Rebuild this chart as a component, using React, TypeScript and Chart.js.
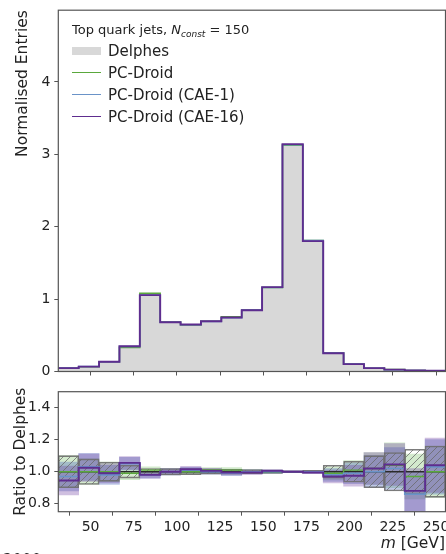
import React, { useEffect, useRef } from 'react';
import { Chart, registerables } from 'chart.js';

Chart.register(...registerables);

// ---------------- data ----------------
const binEdges = [31.3, 43.1, 54.9, 66.7, 78.5, 90.3, 102.1, 113.9, 125.7, 137.5, 149.3, 161.1, 172.9, 184.7, 196.5, 208.3, 220.1, 231.9, 243.7, 255.5];

const delphes = [0.05, 0.066, 0.135, 0.33, 1.075, 0.68, 0.64, 0.69, 0.75, 0.85, 1.16, 3.12, 1.81, 0.26, 0.105, 0.045, 0.025, 0.015, 0.01];
const pcDroid = [0.05, 0.066, 0.135, 0.333, 1.08, 0.683, 0.642, 0.694, 0.755, 0.85, 1.16, 3.125, 1.81, 0.258, 0.106, 0.046, 0.026, 0.0145, 0.0098];
const pcDroidCae1 = [0.049, 0.068, 0.133, 0.346, 1.055, 0.68, 0.646, 0.69, 0.742, 0.85, 1.16, 3.13, 1.81, 0.255, 0.104, 0.045, 0.0255, 0.013, 0.0103];
const pcDroidCae16 = [0.047, 0.068, 0.134, 0.348, 1.055, 0.68, 0.65, 0.693, 0.746, 0.846, 1.166, 3.14, 1.8, 0.252, 0.102, 0.046, 0.026, 0.013, 0.0104];

const ratioDelphes = [1, 1, 1, 1, 1, 1, 1, 1, 1, 1, 1, 1, 1, 1, 1, 1, 1, 1, 1];
const ratioPcDroid = [1.0, 1.0, 1.0, 0.99, 1.01, 1.0, 1.0, 1.01, 1.01, 1.0, 1.0, 1.0, 1.0, 0.99, 1.01, 1.02, 1.04, 0.97, 1.0];
const ratioCae1 = [0.97, 1.03, 0.98, 1.05, 0.98, 1.0, 1.01, 1.0, 0.99, 1.0, 1.0, 1.0, 1.0, 0.98, 0.99, 1.0, 1.02, 0.86, 1.03];
const ratioCae16 = [0.945, 1.025, 0.99, 1.055, 0.98, 1.0, 1.015, 1.005, 0.995, 0.995, 1.005, 1.0, 0.995, 0.97, 0.975, 1.02, 1.045, 0.88, 1.04];

const errDelphes = [0.1, 0.08, 0.06, 0.04, 0.02, 0.02, 0.018, 0.016, 0.015, 0.013, 0.01, 0.006, 0.008, 0.04, 0.065, 0.1, 0.12, 0.14, 0.16];
const errPcDroid = [0.1, 0.08, 0.06, 0.04, 0.02, 0.02, 0.018, 0.016, 0.015, 0.013, 0.01, 0.006, 0.008, 0.04, 0.06, 0.1, 0.14, 0.14, 0.16];
const errCae1 = [0.09, 0.085, 0.06, 0.04, 0.02, 0.02, 0.018, 0.016, 0.015, 0.013, 0.01, 0.006, 0.008, 0.04, 0.065, 0.1, 0.13, 0.14, 0.17];
const errCae16 = [0.09, 0.085, 0.06, 0.04, 0.02, 0.02, 0.018, 0.016, 0.015, 0.013, 0.01, 0.006, 0.008, 0.04, 0.065, 0.1, 0.13, 0.14, 0.17];

const xTicks = [50, 75, 100, 125, 150, 175, 200, 225, 250];
const yTopTicks = [0, 1, 2, 3, 4];
const yRatioTicks = [0.8, 1.0, 1.2, 1.4];

// ---------------- style ----------------
const FONT = '"DejaVu Sans", "Liberation Sans", sans-serif';
const TEXT = '#222222';
const AXIS = '#555555';
const GRAY_FILL = '#d8d8d8';
const GREEN = '#5aa83c';
const BLUE = '#6a93c8';
const PURPLE = '#5e2d8f';
const GREEN_BAND = 'rgba(110,185,90,0.30)';
const BLUE_BAND = 'rgba(85,110,190,0.38)';
const PURPLE_BAND = 'rgba(105,55,160,0.32)';

const stepPoints = (vals: number[]) => {
  const pts = vals.map((v, i) => ({ x: binEdges[i], y: v }));
  pts.push({ x: binEdges[vals.length], y: vals[vals.length - 1] });
  return pts;
};

const bandPoints = (vals: number[], errs: number[]) =>
  vals.map((v, i) => ({ x: (binEdges[i] + binEdges[i + 1]) / 2, y: [v - errs[i], v + errs[i]] }));

const framePlugin = {
  id: 'frame',
  afterDraw(chart: any) {
    const { ctx, chartArea: a } = chart;
    ctx.save();
    ctx.strokeStyle = AXIS;
    ctx.lineWidth = 1.2;
    ctx.strokeRect(a.left, a.top, a.right - a.left, a.bottom - a.top);
    ctx.restore();
  },
};

const tickGrid = { display: true, drawOnChartArea: false, drawTicks: true, tickLength: 4, color: AXIS, tickWidth: 1 };

const lineDs = (label: string, data: any, color: string, width: number, order: number) => ({
  type: 'line' as const,
  label,
  data,
  stepped: 'before' as const,
  borderColor: color,
  borderWidth: width,
  pointRadius: 0,
  fill: false,
  order,
});

const bandDs = (label: string, data: any, color: any, order: number, border = 0, borderColor = 'rgba(0,0,0,0)') => ({
  type: 'bar' as const,
  label,
  data,
  backgroundColor: color,
  borderColor,
  borderWidth: border,
  borderSkipped: false,
  grouped: false,
  barPercentage: 1,
  categoryPercentage: 1,
  order,
});

export default function App() {
  const topRef = useRef<HTMLCanvasElement>(null);
  const botRef = useRef<HTMLCanvasElement>(null);

  useEffect(() => {
    const topCanvas = topRef.current!;
    const botCanvas = botRef.current!;

    const top = new Chart(topCanvas, {
      type: 'line',
      data: {
        datasets: [
          {
            label: 'Delphes',
            data: stepPoints(delphes),
            stepped: 'before',
            fill: 'origin',
            backgroundColor: GRAY_FILL,
            borderColor: 'rgba(0,0,0,0)',
            borderWidth: 0,
            pointRadius: 0,
            order: 0,
          } as any,
          lineDs('PC-Droid', stepPoints(pcDroid), GREEN, 1.5, -1),
          lineDs('PC-Droid (CAE-1)', stepPoints(pcDroidCae1), BLUE, 1.5, -2),
          lineDs('PC-Droid (CAE-16)', stepPoints(pcDroidCae16), PURPLE, 1.9, -3),
        ],
      },
      options: {
        animation: false,
        responsive: false,
        events: [],
        layout: { padding: { left: 0, top: 10.2, right: 24.5, bottom: 0 } },
        plugins: { legend: { display: false }, tooltip: { enabled: false } },
        scales: {
          x: {
            type: 'linear',
            min: binEdges[0],
            max: binEdges[binEdges.length - 1],
            offset: false,
            afterBuildTicks: (s: any) => {
              s.ticks = xTicks.map((v) => ({ value: v }));
            },
            afterFit: (s: any) => {
              s.height = 13.5;
              s.paddingLeft = 0;
              s.paddingRight = 0;
            },
            ticks: { display: false },
            grid: tickGrid,
            border: { display: false },
          },
          y: {
            type: 'linear',
            min: 0,
            max: 4.99,
            afterBuildTicks: (s: any) => {
              s.ticks = yTopTicks.map((v) => ({ value: v }));
            },
            afterFit: (s: any) => {
              s.width = 58.3;
              s.paddingTop = 0;
              s.paddingBottom = 0;
            },
            ticks: { font: { family: FONT, size: 14 }, color: TEXT, padding: 4, callback: (v: any) => String(v) },
            grid: tickGrid,
            border: { display: false },
            title: {
              display: true,
              text: 'Normalised Entries',
              align: 'end',
              color: TEXT,
              font: { family: FONT, size: 15.5 },
              padding: { top: 14, bottom: 0 },
            },
          },
        },
      } as any,
      plugins: [framePlugin],
    });

    // hatch pattern
    const tile = document.createElement('canvas');
    tile.width = 7;
    tile.height = 7;
    const tg = tile.getContext('2d')!;
    tg.strokeStyle = 'rgba(105,105,105,0.85)';
    tg.lineWidth = 0.9;
    tg.beginPath();
    tg.moveTo(0, 7);
    tg.lineTo(7, 0);
    tg.moveTo(-1, 1);
    tg.lineTo(1, -1);
    tg.moveTo(6, 8);
    tg.lineTo(8, 6);
    tg.stroke();
    const hatch = botCanvas.getContext('2d')!.createPattern(tile, 'repeat');

    const bot = new Chart(botCanvas, {
      type: 'line',
      data: {
        datasets: [
          bandDs('PC-Droid band', bandPoints(ratioPcDroid, errPcDroid), GREEN_BAND, 0),
          bandDs('PC-Droid (CAE-1) band', bandPoints(ratioCae1, errCae1), BLUE_BAND, -1),
          bandDs('PC-Droid (CAE-16) band', bandPoints(ratioCae16, errCae16), PURPLE_BAND, -2),
          bandDs('Delphes band', bandPoints(ratioDelphes, errDelphes), hatch, -3, 0.9, 'rgba(110,110,110,0.9)'),
          lineDs('Delphes', stepPoints(ratioDelphes), '#2a2a2a', 1.5, -4),
          lineDs('PC-Droid', stepPoints(ratioPcDroid), GREEN, 1.4, -5),
          lineDs('PC-Droid (CAE-1)', stepPoints(ratioCae1), BLUE, 1.6, -6),
          lineDs('PC-Droid (CAE-16)', stepPoints(ratioCae16), PURPLE, 1.9, -7),
        ] as any,
      },
      options: {
        animation: false,
        responsive: false,
        events: [],
        layout: { padding: { left: 0, top: 11.7, right: 24.5, bottom: 0 } },
        plugins: { legend: { display: false }, tooltip: { enabled: false } },
        scales: {
          x: {
            type: 'linear',
            min: binEdges[0],
            max: binEdges[binEdges.length - 1],
            offset: false,
            afterBuildTicks: (s: any) => {
              s.ticks = xTicks.map((v) => ({ value: v }));
            },
            afterFit: (s: any) => {
              s.height = 42.3;
              s.paddingLeft = 0;
              s.paddingRight = 0;
            },
            ticks: { font: { family: FONT, size: 14 }, color: TEXT, padding: 3, maxRotation: 0, callback: (v: any) => String(v) },
            grid: tickGrid,
            border: { display: false },
          },
          y: {
            type: 'linear',
            min: 0.75,
            max: 1.5,
            afterBuildTicks: (s: any) => {
              s.ticks = yRatioTicks.map((v) => ({ value: v }));
            },
            afterFit: (s: any) => {
              s.width = 58.3;
              s.paddingTop = 0;
              s.paddingBottom = 0;
            },
            ticks: { font: { family: FONT, size: 14 }, color: TEXT, padding: 4, callback: (v: any) => Number(v).toFixed(1) },
            grid: tickGrid,
            border: { display: false },
            title: {
              display: true,
              text: 'Ratio to Delphes',
              align: 'center',
              color: TEXT,
              font: { family: FONT, size: 15.5 },
              padding: { top: 11.7, bottom: 0 },
            },
          },
        },
      } as any,
      plugins: [framePlugin],
    });

    return () => {
      top.destroy();
      bot.destroy();
    };
  }, []);

  const legendRow = (label: string, cy: number, handle: React.ReactNode) => (
    <React.Fragment key={label}>
      {handle}
      <div
        style={{
          position: 'absolute',
          left: 108,
          top: cy - 9,
          height: 18,
          lineHeight: '18px',
          fontSize: 15,
          fontFamily: FONT,
          color: TEXT,
          whiteSpace: 'nowrap',
        }}
      >
        {label}
      </div>
    </React.Fragment>
  );

  const lineHandle = (cy: number, color: string) => (
    <div style={{ position: 'absolute', left: 72, top: cy - 0.75, width: 29, height: 1.5, background: color }} />
  );

  return (
    <div
      style={{
        position: 'fixed',
        left: 0,
        top: 0,
        width: 446,
        height: 554,
        overflow: 'hidden',
        background: '#ffffff',
      }}
    >
      <canvas ref={topRef} width={470} height={385} style={{ position: 'absolute', left: 0, top: 0, width: 470, height: 385 }} />
      <canvas ref={botRef} width={470} height={174} style={{ position: 'absolute', left: 0, top: 380, width: 470, height: 174 }} />

      <div
        style={{
          position: 'absolute',
          left: 72,
          top: 21,
          height: 17,
          lineHeight: '17px',
          fontSize: 13,
          fontFamily: FONT,
          color: TEXT,
          whiteSpace: 'nowrap',
        }}
      >
        Top quark jets, <i>N</i>
        <span style={{ fontSize: 9, position: 'relative', top: 3, fontStyle: 'italic' }}>const</span> = 150
      </div>
      {legendRow('Delphes', 51, <div style={{ position: 'absolute', left: 72, top: 47, width: 29, height: 8, background: GRAY_FILL }} />)}
      {legendRow('PC-Droid', 72.5, lineHandle(72.5, GREEN))}
      {legendRow('PC-Droid (CAE-1)', 94.5, lineHandle(94.5, BLUE))}
      {legendRow('PC-Droid (CAE-16)', 116.5, lineHandle(116.5, PURPLE))}

      <div
        style={{
          position: 'absolute',
          right: 1,
          top: 534,
          height: 18,
          lineHeight: '18px',
          fontSize: 15.5,
          fontFamily: FONT,
          color: TEXT,
          whiteSpace: 'nowrap',
        }}
      >
        <i>m</i> [GeV]
      </div>

      <div
        style={{
          position: 'absolute',
          left: 3,
          top: 551,
          height: 18,
          lineHeight: '18px',
          fontSize: 15,
          fontFamily: FONT,
          color: TEXT,
          whiteSpace: 'nowrap',
        }}
      >
        2000
      </div>
    </div>
  );
}
